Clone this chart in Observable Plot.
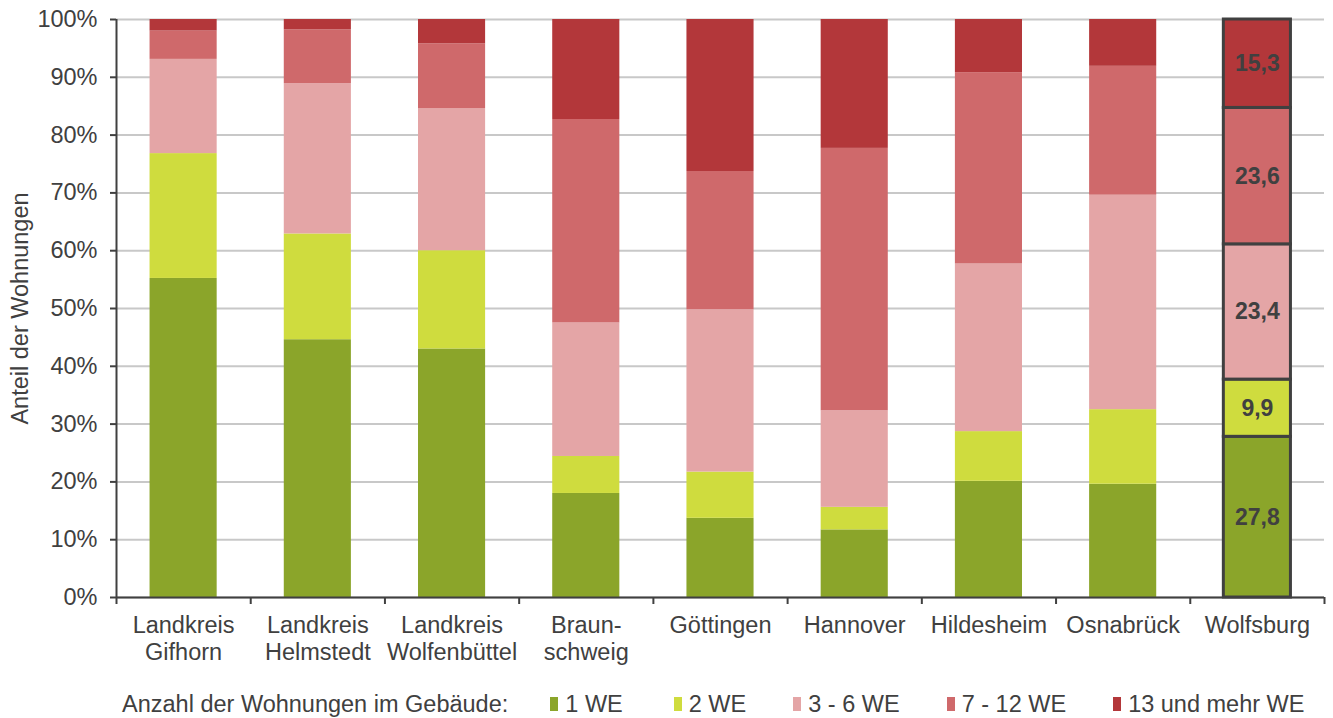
<!DOCTYPE html>
<html>
<head>
<meta charset="utf-8">
<script src="https://cdn.jsdelivr.net/npm/d3@7"></script>
<script src="https://cdn.jsdelivr.net/npm/@observablehq/plot@0.6"></script>
<style>
  html, body { margin: 0; padding: 0; background: #fff; }
  body { width: 1333px; height: 718px; overflow: hidden; font-family: "Liberation Sans", Arial, sans-serif; }
  #legend { display: flex; align-items: center; height: 30px; margin-top: 14px; padding-left: 122px; font-size: 23.5px; color: #404040; white-space: nowrap; }
  #legend .title { margin-right: 42px; }
  #legend .item { display: flex; align-items: center; margin-right: 47px; }
  #legend .item.first { margin-right: 51px; }
  #legend .sw { display: inline-block; width: 8px; height: 14px; margin-right: 7px; }
</style>
</head>
<body>
<div id="chart"></div>
<div id="legend"></div>
<script>
const categories = ["Landkreis\nGifhorn", "Landkreis\nHelmstedt", "Landkreis\nWolfenbüttel", "Braun-\nschweig", "Göttingen", "Hannover", "Hildesheim", "Osnabrück", "Wolfsburg"];
const series = ["1 WE", "2 WE", "3 - 6 WE", "7 - 12 WE", "13 und mehr WE"];
const we1    = [55.2, 44.6, 43.0, 18.0, 13.7, 11.7, 20.1, 19.6, 27.8];
const we2    = [21.6, 18.3, 17.0,  6.4,  8.0,  3.9,  8.6, 12.9,  9.9];
const we3_6  = [16.3, 26.0, 24.6, 23.1, 28.1, 16.7, 29.0, 37.1, 23.4];
const we7_12 = [ 4.9,  9.3, 11.2, 35.2, 23.9, 45.4, 33.1, 22.3, 23.6];
const we13   = [ 2.0,  1.8,  4.2, 17.3, 26.3, 22.3,  9.2,  8.1, 15.3];
const colors = ["#8ba52a", "#cfdc3e", "#e4a5a6", "#cf696b", "#b3373a"];
const yTicks = [0, 10, 20, 30, 40, 50, 60, 70, 80, 90, 100];
const highlighted = "Wolfsburg";
const legendTitle = "Anzahl der Wohnungen im Gebäude:";
const yLabel = "Anteil der Wohnungen";

const valuesBySeries = [we1, we2, we3_6, we7_12, we13];
const data = [];
series.forEach((s, si) => {
  categories.forEach((c, i) => {
    data.push({cat: c, i, series: s, value: valuesBySeries[si][i]});
  });
});
const hiData = data.filter(d => d.cat === highlighted);

const W = 1333, H = 675, ML = 116, MR = 9, MT = 19, MB = 78;
const step = (W - ML - MR) / categories.length;
const inset = step * 0.25;
const ink = "#404040";
const FS = 23.5;

const chart = Plot.plot({
  width: W, height: H,
  marginLeft: ML, marginRight: MR, marginTop: MT, marginBottom: MB,
  style: {fontFamily: '"Liberation Sans", Arial, sans-serif', fontSize: FS + "px", color: ink, background: "#fff"},
  x: {type: "linear", domain: [0, categories.length]},
  y: {domain: [0, 100]},
  color: {domain: series, range: colors},
  marks: [
    Plot.gridY(yTicks, {stroke: "#c8c8c8", strokeOpacity: 1, strokeWidth: 2}),
    Plot.rectY(data, {x1: "i", x2: d => d.i + 1, y: "value", fill: "series", insetLeft: inset, insetRight: inset}),
    Plot.rectY(hiData, {x1: "i", x2: d => d.i + 1, y: "value", fill: "series", stroke: ink, strokeWidth: 3, insetLeft: inset, insetRight: inset}),
    Plot.text(hiData, Plot.stackY({x: d => d.i + 0.5, y: "value", text: d => d.value.toFixed(1).replace(".", ","), fill: ink, fontWeight: "bold", fontSize: 23})),
    Plot.axisY({ticks: yTicks, tickFormat: d => d + "%", tickSize: 6, tickPadding: 13, stroke: ink, strokeWidth: 2, fill: ink, label: yLabel, labelAnchor: "center", labelOffset: 105, labelArrow: false, fontSize: FS}),
    Plot.axisX({ticks: d3.range(categories.length + 1), tickFormat: () => "", tickSize: 7, stroke: ink, strokeWidth: 2, label: null}),
    Plot.axisX({ticks: d3.range(categories.length).map(i => i + 0.5), tickFormat: v => categories[Math.floor(v)], tickSize: 0, tickPadding: 17, lineHeight: 1.12, fill: ink, label: null, fontSize: FS}),
    Plot.ruleY([0], {stroke: ink, strokeWidth: 2}),
    Plot.ruleX([0], {stroke: ink, strokeWidth: 2})
  ]
});
document.getElementById("chart").appendChild(chart);

const legend = document.getElementById("legend");
const t = document.createElement("span");
t.className = "title";
t.textContent = legendTitle;
legend.appendChild(t);
series.forEach((s, i) => {
  const item = document.createElement("span");
  item.className = i === 0 ? "item first" : "item";
  const sw = document.createElement("span");
  sw.className = "sw";
  sw.style.background = colors[i];
  const lab = document.createElement("span");
  lab.textContent = s;
  item.appendChild(sw);
  item.appendChild(lab);
  legend.appendChild(item);
});
</script>
</body>
</html>
